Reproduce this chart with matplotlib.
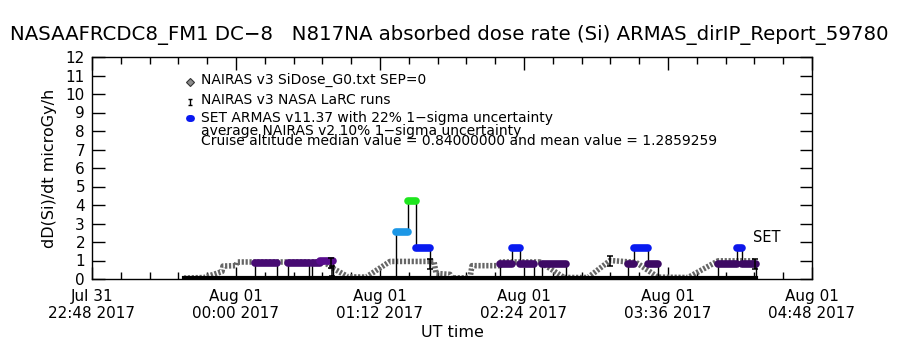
import numpy as np
import matplotlib
matplotlib.use("Agg")
import matplotlib.pyplot as plt
import matplotlib.dates as mdates
from matplotlib.colors import LinearSegmentedColormap, Normalize
from matplotlib.path import Path

# time axis: minutes after Jul 31 22:48 UT
t0 = np.datetime64("2017-07-31T22:48")

# NAIRAS v3 model (SiDose_G0, SEP=0)
nairas_min = [46, 56, 58, 65, 65.5, 72, 72.5, 116, 121, 128, 137, 149, 171, 172, 179,
              180, 189, 190, 204, 204.5, 224, 236, 248, 259, 272, 283, 298, 313, 332]
nairas_val = [0.05, 0.08, 0.15, 0.40, 0.70, 0.72, 0.92, 0.92, 0.55, 0.12, 0.10, 0.95, 0.95, 0.30, 0.25,
              0.06, 0.06, 0.72, 0.72, 0.92, 0.92, 0.08, 0.08, 1.00, 0.90, 0.10, 0.08, 0.98, 0.98]

# NAIRAS v3 NASA LaRC runs
larc_min = [119.5, 120, 169, 259, 331.5]
larc_val = [0.85, 0.45, 0.80, 1.00, 0.80]

# SET ARMAS plateaus
armas_start = [81.5, 98, 110, 114, 152, 158, 162, 204, 210, 214, 225, 268, 271, 278, 313, 322.5, 325]
armas_end = [92.5, 108.5, 114, 120.5, 158, 162, 169, 210, 214, 221, 237, 271, 278, 283, 322.5, 325, 332]
armas_val = [0.85, 0.85, 0.85, 0.95, 2.55, 4.2, 1.7, 0.82, 1.7, 0.82, 0.8, 0.8, 1.7, 0.8, 0.8, 1.65, 0.8]
armas_first, armas_last = 46, 332

title = "NASAAFRCDC8_FM1 DC\u22128   N817NA absorbed dose rate (Si) ARMAS_dirIP_Report_59780"
legend_lines = ["NAIRAS v3 SiDose_G0.txt SEP=0",
                "NAIRAS v3 NASA LaRC runs",
                "SET ARMAS v11.37 with 22% 1\u2212sigma uncertainty",
                "average NAIRAS v2 10% 1\u2212sigma uncertainty",
                "Cruise altitude median value = 0.84000000 and mean value = 1.2859259"]
major_min = [0, 72, 144, 216, 288, 360]


def to_time(minutes):
    s = np.round(np.asarray(minutes, dtype=float) * 60).astype("int64")
    return t0 + s.astype("timedelta64[s]")


def fpos(x, y):
    return x / 900, 1 - y / 350


plt.rcParams["font.family"] = "DejaVu Sans"
fig = plt.figure(figsize=(9, 3.5), dpi=100)
ax = fig.add_axes([92 / 900, 1 - 279 / 350, 720 / 900, 222 / 350])

# IDL-like rainbow colour table for ARMAS values
cmap = LinearSegmentedColormap.from_list(
    "idl", [(0, "#000000"), (0.10, "#3e0a66"), (0.12, "#5c0c92"), (0.21, "#0818f0"),
            (0.32, "#1c9ae6"), (0.525, "#1ee61e"), (0.75, "#ffff00"), (1, "#ff0000")])
norm = Normalize(0, 8)

# model curve, drawn as a checkered band
ax.plot(to_time(nairas_min), nairas_val, color="0.4", lw=4,
        dashes=(0.4, 0.3), solid_capstyle="butt", zorder=2)

# ARMAS zero baseline
ax.plot(to_time([armas_first, armas_last]), [0.04, 0.04], color="black", lw=3, zorder=3)

# ARMAS connecting line
lx, ly = [], []
n = len(armas_start)
for i in range(n):
    gap_before = i == 0 or armas_start[i] > armas_end[i - 1] + 0.01
    if gap_before:
        lx += [armas_start[i], armas_start[i]]
        ly += [0, armas_val[i]]
    else:
        lx.append(armas_start[i])
        ly.append(armas_val[i])
    lx.append(armas_end[i])
    ly.append(armas_val[i])
    if i == n - 1 or armas_start[i + 1] > armas_end[i] + 0.01:
        lx.append(armas_end[i])
        ly.append(0)
ax.plot(to_time(lx), ly, color="black", lw=1, zorder=4)

# ARMAS coloured plateaus
for s, e, v in zip(armas_start, armas_end, armas_val):
    ax.plot(to_time([s, e]), [v, v], color=cmap(norm(v)), lw=5.5,
            solid_capstyle="round", zorder=5)

# LaRC markers
ibar = Path([(0, -1), (0, 1), (-0.6, 1), (0.6, 1), (-0.6, -1), (0.6, -1)],
            [Path.MOVETO, Path.LINETO, Path.MOVETO, Path.LINETO, Path.MOVETO, Path.LINETO])
ax.plot(to_time(larc_min), larc_val, ls="none", marker=ibar, ms=7, mec="black",
        mew=1.1, zorder=6)

ax.text(to_time([330.5])[0], 2.27, "SET", fontsize=10.5, va="center", ha="left")

# axes
ax.set_ylim(0, 12)
ax.set_xlim(to_time([0])[0], to_time([360])[0])
ax.set_yticks(range(13))
ax.xaxis.set_major_locator(matplotlib.ticker.FixedLocator(mdates.date2num(to_time(major_min))))
ax.xaxis.set_minor_locator(matplotlib.ticker.FixedLocator(
    mdates.date2num(to_time(np.arange(0, 361, 14.4)))))
ax.xaxis.set_major_formatter(mdates.DateFormatter("%b %d\n%H:%M %Y"))
ax.tick_params(which="both", direction="in", top=True, right=True, labelsize=11,
               width=1, colors="black")
ax.tick_params(which="major", length=9)
ax.tick_params(which="minor", length=5)
ax.tick_params(axis="x", pad=7)
ax.tick_params(axis="y", pad=5)
for sp in ax.spines.values():
    sp.set_linewidth(1)
ax.set_xlabel("UT time", fontsize=11.5, labelpad=3)
ax.set_ylabel("dD(Si)/dt microGy/h", fontsize=11.5, labelpad=6)

fig.text(*fpos(449, 35), title, fontsize=14.2, ha="center", va="center")

# hand-placed legend
text_y = [80, 100, 118, 131, 141]
for ty, s in zip(text_y, legend_lines):
    fig.text(*fpos(201, ty), s, fontsize=10, ha="left", va="center")
sym_x, _ = fpos(190, 0)
fig.add_artist(plt.Line2D([sym_x], [fpos(0, 82)[1]], marker="D", ms=4.5, mfc="0.55",
                          mec="0.2", mew=0.8, ls="none"))
fig.add_artist(plt.Line2D([sym_x], [fpos(0, 102)[1]], marker=ibar, ms=5, mec="black",
                          mew=1, ls="none"))
fig.add_artist(plt.Line2D([sym_x - 0.0015, sym_x + 0.0015], [fpos(0, 118)[1]] * 2,
                          color="#0818f0", lw=5, solid_capstyle="round"))

fig.savefig("out.png", dpi=100, facecolor="white")
